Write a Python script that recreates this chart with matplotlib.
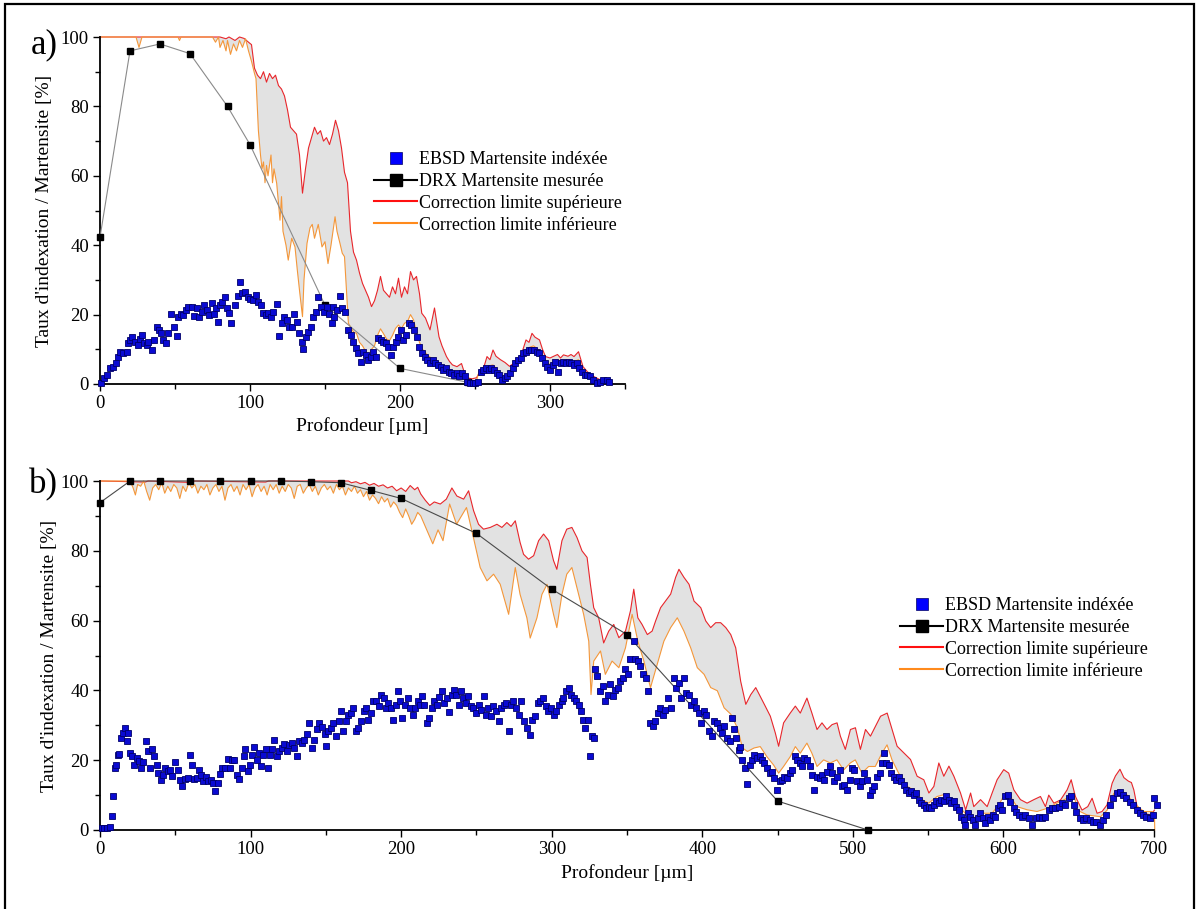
import numpy as np
import matplotlib
matplotlib.use("Agg")
from matplotlib import pyplot as plt
from matplotlib.lines import Line2D
from matplotlib.patches import Rectangle
from matplotlib.ticker import MultipleLocator

plt.rcParams['font.family'] = ['Liberation Serif', 'DejaVu Serif']

# ---------------- panel a) data ----------------
drx_a_x = [0, 20, 40, 60, 85, 100, 150, 200, 245]
drx_a_y = [42.3, 96, 98, 95.2, 80, 69, 22.7, 4.5, 0.5]

upper_a = [(0, 100), (80, 100), (84, 99.5), (86, 100), (90, 99), (93, 100), (96, 99.6), (99, 98.5),
           (101, 97.8), (103, 91), (105, 89), (107, 88), (109, 90), (111, 87), (113, 89.5), (115, 88),
           (117, 89), (119, 86), (121, 85), (123, 83), (125, 79), (127, 74), (129, 73), (131, 72),
           (133, 66), (135, 55), (137, 62), (139, 68), (141, 71), (143, 74), (145, 72), (147, 73),
           (149, 70), (151, 71), (153, 69), (155, 72), (157, 76), (159, 73), (161, 68), (163, 61),
           (165, 58), (167, 44), (169, 38), (171, 35.7), (173, 32), (175, 29), (177, 27), (179, 25),
           (181, 22.3), (183, 24), (185, 27), (187, 31), (189, 27), (191, 26), (193, 25), (195, 28),
           (197, 26), (199, 30.5), (201, 25), (203, 28), (205, 26), (207, 32.4), (209, 30), (211, 31),
           (213, 26), (214.5, 20.4), (217, 19), (220, 15.6), (223, 21.9), (226, 13.6), (228, 11),
           (231, 7.9), (233, 6.5), (235, 5.5), (238, 5), (241, 5.9), (244, 1.8), (248, 1.5), (251, 1.8),
           (254, 4), (256, 5), (258, 7.9), (260, 7), (262, 9.8), (264, 8), (267, 7), (270, 6.2),
           (273, 5.1), (276, 6), (280, 7.9), (282, 10), (284, 12.7), (286, 12), (288, 14.6), (290, 13.5),
           (293, 12.7), (295, 10), (297, 7.9), (300, 7.5), (302, 7.9), (305, 8.5), (307, 7.5), (309, 8.4),
           (312, 8), (314, 8.5), (316, 7.9), (319, 9.3), (322, 5), (325, 3.5), (329, 2.2), (333, 1.3),
           (336, 1.5), (340, 1.3)]

lower_a = [(0, 100), (24, 100), (26, 97), (28, 100), (52, 100), (53, 99), (54, 100), (75, 100),
           (77, 98.5), (79, 100), (80, 97), (82, 99), (84, 96), (85, 99), (87, 95), (89, 98), (91, 96),
           (93, 99), (95, 97), (97, 99.5), (99, 96), (101, 93), (103, 89.5), (104, 88), (105.6, 73),
           (107, 66), (108, 62), (109, 64), (110, 58), (111, 63), (112, 60), (114, 66), (115, 58),
           (116, 62), (117.8, 57.8), (119, 52), (120, 47.2), (121, 54), (122, 44), (124, 40),
           (125.5, 35.7), (127.8, 42), (130, 39.5), (131.5, 33), (133, 27), (135, 19.4), (136, 30),
           (138, 40.5), (140, 45), (141.5, 46), (143, 42), (145.5, 46), (148, 39.5), (150, 41),
           (152, 34.7), (154, 40), (156.7, 48.2), (158, 44), (160, 40.5), (161.5, 37.7), (163, 36.7),
           (165.6, 17.5), (167, 16.5), (169, 15), (171, 14.6), (173, 12), (175, 11), (177, 9.5),
           (179, 8), (181, 10), (183, 11), (185, 14), (187, 15.9), (189, 14.5), (191, 13), (193, 12.5),
           (195, 14), (197, 16), (199, 17), (201, 16), (203, 17.5), (205, 18), (207, 20), (209, 18.5),
           (211, 15), (213, 12), (215, 10), (217, 9), (219, 8), (221, 7.5), (223, 7), (225, 6.5),
           (227, 5.8), (229, 5), (231, 5), (233, 4.2), (235, 3.8), (237, 3.5), (239, 3), (241, 3.5),
           (243, 2.5), (245, 1.2), (248, 0.8), (251, 1), (253, 4), (256, 5), (259, 5.2), (262, 5.5),
           (265, 4), (268, 2), (271, 2.5), (274, 4), (277, 6.5), (280, 8), (283, 9.5), (286, 10.5),
           (289, 11), (292, 10), (295, 8), (298, 6), (301, 5.5), (304, 7), (307, 6.8), (310, 7),
           (313, 7), (316, 6.5), (319, 7), (322, 4), (325, 3), (328, 2), (331, 1), (334, 1.3),
           (337, 1.5), (340, 1)]

ebsd_a = [(1, 0.4), (3, 1.6), (4.4, 2.6), (6.7, 4.5), (8.9, 4.8), (10.4, 6), (12.2, 7.9), (13.3, 9.3),
          (15.6, 8.8), (17.8, 9.3), (18.9, 11.7), (20, 12.7), (21.6, 13.6), (23.3, 12.2), (25.1, 11.2),
          (26.7, 13.1), (27.8, 14.1), (29.6, 11.7), (31.1, 11.2), (32.2, 12.2), (34.4, 9.8), (36.2, 12.7),
          (37.8, 16.5), (39.3, 15.5), (40.7, 14.6), (42.2, 12.7), (43.8, 11.7), (45.6, 14.6), (47.3, 20.3),
          (49.1, 16.5), (51.1, 13.8), (52.2, 19.4), (54, 20.3), (55.6, 19.9), (57.1, 21.3), (58.9, 22.3),
          (61.1, 22.3), (62.9, 19.6), (64.4, 21.8), (66.2, 19.4), (67.8, 20.8), (69.6, 22.7), (71.3, 21.3),
          (72.7, 19.9), (74.4, 23.2), (75.8, 20.3), (77.1, 21.8), (78.4, 17.9), (80, 22.7), (81.6, 23.7),
          (83.3, 25.1), (84.7, 21.8), (86, 20.5), (87.3, 17.7), (90, 22.7), (91.8, 25.3), (93.6, 29.3),
          (94.9, 26.1), (96.7, 26.6), (98.4, 25.1), (100.2, 24.4), (102.2, 24.2), (103.8, 25.6),
          (105.6, 23.7), (107.3, 22.7), (108.9, 20.5), (110.4, 19.9), (112.2, 20.5), (114, 19.4),
          (115.6, 20.8), (117.8, 23), (119.3, 13.8), (121.1, 17.5), (122.9, 19.4), (124.4, 18.4),
          (126, 16.5), (127.8, 16.5), (129.6, 20.3), (131.1, 17.9), (132.7, 14.6), (134.4, 12.2),
          (135.6, 10), (137.1, 13.6), (138.9, 15.1), (140.7, 16.5), (142.2, 19.4), (143.8, 20.8),
          (145.6, 25.1), (147.3, 22.3), (149.1, 20.8), (151.1, 22.1), (152.9, 20.3), (154.4, 17.7),
          (155.6, 22.3), (156.2, 19.4), (158, 21.3), (159.8, 25.3), (161.6, 21.8), (163.3, 20.8),
          (165.6, 15.5), (167.3, 14.1), (168.9, 12.2), (170.4, 10.3), (172.2, 8.8), (173.8, 6.3),
          (175.6, 9.3), (177.3, 8.4), (178.9, 6.9), (180.4, 7.9), (182.2, 9.3), (183.8, 7.9),
          (185.6, 13.2), (187.3, 12.7), (188.9, 12.2), (190.7, 11.7), (192.2, 10.7), (193.8, 8.4),
          (195.6, 10.7), (197.1, 12.2), (198.9, 13.6), (200.4, 15.6), (202.2, 12.7), (204, 14.1),
          (205.8, 17.5), (207.6, 17), (209.3, 15.6), (211.1, 13.6), (212.9, 10.7), (214.7, 8.8),
          (216.4, 7.9), (218.2, 6.9), (220, 6), (221.8, 6.9), (223.6, 6.1), (225.3, 5.5), (227.1, 5),
          (228.9, 4), (230.7, 4.5), (232.4, 3.5), (234.2, 3.1), (236, 2.6), (237.8, 3.1), (239.6, 2.2),
          (241.3, 3.1), (243.3, 2.2), (244.9, 0.7), (246.7, 0.2), (248.4, 0.2), (250.2, 0.2), (252, 0.7),
          (253.8, 3.5), (255.6, 4), (257.3, 4.5), (259.1, 4), (260.9, 4.5), (262.7, 4), (264.4, 3.1),
          (266.2, 2.6), (268, 1.2), (269.8, 1.7), (271.6, 2.2), (273.3, 3.1), (275.1, 4.5), (276.9, 6),
          (278.7, 6.9), (280.4, 7.4), (282.2, 8.8), (284, 9.3), (285.8, 9.8), (287.6, 9.8), (289.3, 9.8),
          (291.1, 9.3), (292.9, 8.8), (294.7, 7.4), (296.4, 6), (298.2, 5), (300, 4), (301.8, 5.5),
          (303.6, 6.4), (305.3, 3.5), (307.1, 6), (308.9, 6.4), (310.7, 6), (312.4, 6.4), (314.2, 6),
          (316, 5.5), (317.8, 6), (319.6, 4.5), (321.3, 3.5), (323.1, 2.6), (324.9, 2.6), (326.7, 2.2),
          (328.9, 1.2), (331.1, 0.4), (333.3, 0.7), (335.6, 1.2), (337.8, 1.2), (339.6, 0.7)]

# ---------------- panel b) data ----------------
drx_b_x = [0, 20, 40, 60, 80, 100, 120, 140, 160, 180, 200, 250, 300, 350, 450, 510]
drx_b_y = [93.8, 100, 100, 100, 100, 100, 100, 99.8, 99.5, 97.3, 95, 85, 69, 56, 8.3, 0]

upper_b = [(0, 100), (30, 99.7), (32, 100), (60, 99.6), (62, 100), (110, 99.7), (112, 100), (165, 100),
           (167, 99.5), (170, 99.8), (173, 99.2), (176, 99.6), (179, 98.8), (182, 99.3), (185, 98.5),
           (188, 98.9), (191, 98), (194, 98.5), (197, 97.2), (200, 98), (203, 97), (206, 98.7),
           (209, 97.5), (211, 98.2), (213, 96.3), (216, 94.5), (219, 93), (222, 94), (226, 93.4),
           (230, 94.8), (233.7, 98), (237, 95.7), (241.5, 94.8), (244.8, 97.2), (248.1, 91.5),
           (251.4, 87.6), (254.7, 86.2), (259.2, 86.7), (263.6, 87.6), (266.9, 86.7), (270.2, 88.1),
           (273, 87), (275.8, 88.6), (279, 82.4), (281.3, 79), (284.6, 77.6), (288, 78.6), (291.3, 82.9),
           (294.6, 84.8), (298, 82.9), (301.2, 77.2), (303.4, 74.7), (306.8, 82.9), (310, 86.2),
           (313.4, 86.7), (316.8, 83.8), (320.1, 80), (323.5, 78.1), (325.7, 70.4), (327.9, 63.7),
           (331.2, 60.8), (334.5, 53.6), (337.9, 57), (341.2, 58.9), (344.6, 55.1), (349, 57),
           (352.3, 62.8), (354.5, 69), (357.2, 60.8), (360, 58.9), (363.5, 56), (366.7, 57), (369, 59.9),
           (372.3, 63.7), (375.6, 65.6), (379, 67.6), (382.3, 72.4), (384.5, 74.7), (387.8, 72.4),
           (391.2, 70.4), (394.5, 65.6), (399, 63.7), (402.3, 59.9), (405.6, 58), (408.9, 59.4),
           (412.2, 59.4), (415.6, 58), (418.9, 56), (422.2, 52.2), (425.5, 42.6), (428.9, 36),
           (432.2, 38.8), (435.5, 40.8), (438.5, 38.3), (441.8, 35.5), (445.2, 32.6), (448.5, 27.8),
           (450.7, 24), (454, 30.7), (458.4, 33.5), (461.8, 35.5), (465.1, 33.5), (469.5, 37.8),
           (472.8, 33.5), (476.2, 28.8), (479.5, 30.7), (482.8, 28.8), (486.2, 30.2), (489.5, 30.7),
           (491.7, 26.9), (495, 23.1), (498.4, 28.8), (501.7, 29.3), (505, 23.1), (508.4, 28.8),
           (511.7, 26.9), (515, 29.7), (518.4, 32.6), (522.8, 33.5), (526.1, 28.8), (529.4, 24),
           (533.8, 22.1), (538.3, 20.2), (542.7, 15.4), (547.1, 14.4), (550.5, 10.6), (553.8, 12.5),
           (557.1, 19.2), (560.4, 15.4), (563.8, 18.3), (567.1, 15.4), (571.5, 10.6), (574.9, 5.8),
           (578.2, 10.6), (580.3, 6.7), (584.8, 8.7), (589.2, 6.7), (592.5, 10.6), (595.8, 14.4),
           (600.2, 17.3), (603.5, 16.3), (606.9, 11.5), (611.3, 8.7), (615.7, 7.7), (620.2, 8.7),
           (624.6, 9.6), (627.9, 6.7), (630.1, 10), (633.5, 7.7), (637.9, 8.6), (642.3, 11.5),
           (645, 14.4), (647.8, 9.6), (652.2, 5.7), (656, 6.7), (658.9, 9.1), (662.2, 4.8), (665.5, 5.3),
           (668.8, 7.2), (672.2, 13.4), (674.4, 15.5), (677.4, 17.4), (680, 15), (683, 14), (685, 13.6),
           (686.6, 11.5), (688.8, 6.7), (693.2, 4.8), (697.7, 4.3), (700.3, 5.7)]

lower_b = [(0, 100), (20, 100), (22, 98), (23.5, 96), (25, 99), (27, 98.5), (29, 100), (31, 97),
           (33, 94.5), (35, 98), (37, 99), (39, 97.5), (41, 99.5), (43, 96.5), (45, 98.5), (47, 97),
           (49, 99), (51, 98), (53, 95), (55, 98.5), (57, 97), (59, 99.5), (61, 98), (63, 99), (65, 96.5),
           (67, 98.5), (69, 97.5), (71, 99), (73, 96), (75, 98), (77, 99), (79, 97), (81, 98.5),
           (83, 94.5), (85, 98), (87, 99), (89, 97), (91, 98.5), (93, 96), (95, 99), (97, 97.5), (99, 99),
           (101, 95.5), (103, 98), (105, 99), (107, 97), (109, 98.5), (111, 96), (113, 99), (115, 97.5),
           (117, 99), (119, 96.5), (121, 98.5), (123, 97), (125, 99), (127, 98), (129, 95), (131, 98.5),
           (133, 99), (135, 96.5), (137, 98), (139, 99), (141, 97), (143, 98.5), (145, 96), (147, 98),
           (149, 99), (151, 97.5), (153, 98.5), (155, 96.5), (157, 99), (159, 97.5), (161, 98.5),
           (163, 96), (165, 98), (167, 97), (169, 98.5), (171, 96.5), (173, 97.5), (175, 95.5), (177, 97),
           (179, 94.5), (181, 96), (183, 95), (185, 93.5), (187, 95.5), (189, 94), (191, 95), (193, 92.5),
           (195, 94), (197, 93), (199, 91), (201, 89.5), (203, 92), (205, 90), (207, 87.6), (209, 89),
           (211, 91), (213, 90), (217, 86), (221, 82), (224.5, 86), (227.8, 82.9), (232.2, 93.4),
           (236.8, 87.6), (243.4, 92.4), (248, 83.8), (252.5, 75.2), (257, 71.4), (261.4, 73.3),
           (265.8, 70.4), (271.4, 61.8), (275.8, 75.2), (279, 67.5), (283.5, 60.8), (285.7, 55),
           (290.2, 60.8), (293.5, 67.5), (296.9, 70.4), (301.2, 61.8), (303.4, 58), (306.8, 67.5),
           (310, 73.3), (313.4, 75.2), (316.8, 69.4), (321.2, 61.8), (324.6, 54.1), (326.1, 38.8),
           (327.9, 48.4), (332.4, 51.3), (335.6, 44.6), (340.1, 48.4), (344.6, 46.5), (349, 52.2),
           (353.4, 61.8), (357.2, 54.1), (361.2, 48.4), (365.6, 40.8), (370, 47.4), (374.5, 54.1),
           (379, 58), (383.4, 60.8), (387.8, 57), (392.3, 52.2), (396.7, 46.5), (401.2, 44.6),
           (405.6, 40.8), (410, 39.9), (414.5, 35), (418.9, 33.2), (423.3, 29.3), (426.7, 23.5),
           (430, 22.5), (434.4, 23.5), (438.5, 23.9), (442.9, 21), (447.4, 18.6), (450.7, 16.3),
           (454, 18.2), (458.4, 21), (461.8, 23.9), (465.1, 22), (469.5, 24.9), (472.8, 22), (476.2, 18.2),
           (480.6, 20.1), (485, 19.2), (489.4, 20.1), (493.9, 17.2), (498.3, 19.2), (501.6, 20.1),
           (506, 16.3), (510.5, 18.2), (514.9, 18.2), (519.3, 22), (522.7, 24.4), (526, 20.1),
           (530.4, 16.3), (536, 12.5), (540.4, 11.5), (546, 8.7), (550.3, 7.7), (555.9, 9.6),
           (560.3, 10.1), (564.7, 9.1), (570.3, 6.7), (575.8, 4.3), (581.4, 3.4), (586.9, 4.8),
           (592.4, 4.8), (596.9, 7.2), (601.3, 10.6), (604.6, 9.6), (609, 6.7), (615.7, 5.8), (622.3, 5.3),
           (629, 6.2), (635.6, 7.7), (642.3, 9.1), (646.7, 10.6), (649, 5.7), (655.6, 4.3), (664.5, 3.8),
           (668.9, 5.7), (673.3, 10.5), (677.7, 11.5), (682.2, 10), (686.6, 7.7), (693.2, 5.3),
           (698.8, 5.3), (700.3, 4.8), (700.5, 0)]

ebsd_b = [(1.1, 0.5), (2.9, 0.5), (4.6, 0.7), (6.6, 0.9), (7.7, 3.9), (8.9, 9.6), (10, 17.7), (10.6, 18.7),
          (11.7, 21.6), (12.6, 21.8), (14, 26.4), (15.5, 27.8), (16.6, 29.1), (17.7, 25.4), (18.8, 27.8),
          (19.9, 22.1), (21.5, 21.2), (22.8, 18.7), (24.4, 20.6), (25.9, 19.9), (27.2, 17.7), (28.8, 19.6),
          (30.3, 25.4), (31.7, 22.6), (33.2, 17.7), (34.8, 23.1), (36.1, 21.2), (37.7, 18.7), (38.8, 16.3),
          (40.3, 14.4), (41.6, 15.8), (43.2, 17.7), (45, 16.8), (46.5, 17.3), (48, 15.4), (49.8, 19.6),
          (51.6, 17.3), (53.2, 14.4), (54.7, 12.5), (56.5, 14.7), (58.2, 14.9), (59.8, 21.6), (60.9, 18.7),
          (62.7, 14.7), (64.2, 14.9), (65.8, 17.3), (67.1, 15.8), (68.7, 14.1), (70.4, 15.1), (72, 13.9),
          (73.8, 14.4), (75.3, 13.4), (76.4, 11.2), (78.2, 13.4), (79.7, 16), (81.3, 17.9), (83.1, 17.7),
          (84.8, 20.4), (86.4, 17.7), (87.9, 20.1), (89.3, 20.1), (90.8, 15.8), (92.4, 14.7), (94.1, 17.7),
          (95.5, 21.2), (96.4, 23.1), (98.1, 16.8), (99.7, 18.7), (101.2, 21.6), (102.6, 23.9),
          (104.1, 20.1), (105.7, 22.1), (107, 18.2), (108.5, 21.6), (110.1, 23.1), (111.4, 17.7),
          (113, 21.6), (114.5, 23.1), (115.8, 25.9), (117.4, 21.2), (118.9, 22.6), (120.7, 23.6),
          (122.5, 24.5), (124, 22.6), (125.6, 24.3), (127.4, 25), (129.1, 23.6), (130.7, 21.2),
          (132.2, 25.4), (134, 25), (135.8, 25.9), (137.3, 27.4), (139.1, 30.7), (140.6, 23.6),
          (142.4, 25.9), (143.9, 28.8), (145.5, 30.7), (147.3, 29.4), (149.1, 27.4), (149.9, 24),
          (151.7, 28.3), (153.5, 29.3), (155, 30.7), (156.6, 26.9), (158.4, 31.1), (160.1, 34),
          (161.7, 28.3), (163.2, 31.1), (165, 33), (166.8, 33.5), (168.3, 34.9), (169.9, 28.3),
          (171.6, 29.3), (173.4, 31.1), (175, 34), (176.5, 34.9), (178.3, 31.6), (180.1, 33.5),
          (181.6, 36.9), (183.2, 36.9), (185, 35.4), (186.7, 38.6), (188.5, 37.8), (189.8, 34.9),
          (191.6, 36.4), (193.4, 34.9), (194.9, 31.6), (196.5, 35.9), (197.8, 39.7), (199.3, 36.9),
          (200.9, 32.1), (202.7, 35.9), (204.5, 37.8), (206, 34.9), (207.6, 33), (209.3, 34.9),
          (211.1, 36.9), (212.7, 35.9),
          (213.7, 38.3), (215.3, 35.9), (217, 30.7), (218.8, 32.1), (220.4, 35), (221.9, 36.9),
          (223.7, 35.9), (225.4, 38), (227, 39.8), (228.5, 36.4), (230.3, 37.8), (232.1, 33.8),
          (233.6, 38.8), (234.8, 40), (236.5, 38.8), (238.1, 35.9), (239.6, 39.8), (241.4, 37.8),
          (243.2, 36.4), (244.7, 38.3), (246.3, 35.4), (248, 35), (249.8, 33.5), (251.4, 35.9),
          (252.9, 34.5), (254.7, 38.3), (256.5, 33), (258, 35), (259.6, 32.6), (261.3, 35.4), (263.1, 34),
          (264.7, 31.1), (266.2, 35), (268, 35.9), (269.8, 36.4), (271.5, 28.3), (272.9, 35.9),
          (274.6, 36.9), (276.4, 35), (278.2, 33), (279.9, 36.9), (281.7, 31.1), (283.5, 29.2),
          (285.3, 27.3), (287, 31.6), (288.8, 32.6), (290.6, 36.4), (292.3, 36.9), (294.1, 37.8),
          (295.9, 35.4), (297.7, 34), (299.4, 35), (301.2, 33), (303, 34), (304.7, 35.9), (306.5, 36.9),
          (307.8, 37.8), (309.6, 39.8), (311.2, 40.7), (312.7, 38.8), (314.5, 37.8), (316.3, 36.9),
          (317.8, 35.9), (319.4, 34), (321.1, 31.6), (322.2, 29.2), (323.8, 31.6), (325.6, 21.1),
          (326.7, 26.9), (327.8, 26.4), (328.9, 46), (330.4, 44.1), (332.2, 39.8), (334, 41.2),
          (335.5, 36.9), (337.1, 38.8), (338.9, 41.7), (340.6, 38.3), (342.2, 40.2), (343.7, 40.7),
          (345.5, 42.6), (347.3, 43.6), (348.8, 46), (350.4, 44.6), (352.1, 48.9), (354.4, 54.1),
          (355.5, 48.9), (357, 48.4), (358.8, 47), (360.6, 44.6), (362.3, 43.6), (364.1, 39.8),
          (365.4, 30.7), (367.2, 29.7), (368.8, 31.1), (370.3, 33.5), (372.1, 35), (373.9, 33),
          (375.4, 34.5), (377, 37.8), (379.2, 35), (381, 43.6), (382.7, 40.7), (384.3, 42.1),
          (385.8, 37.8), (387.6, 43.6), (389.4, 39.3), (390.9, 38.8), (392.5, 35.9), (394.2, 36.9),
          (396, 35), (397.6, 33.5), (399.1, 30.7), (400.9, 34), (402.6, 33), (404.4, 28.3), (406.4, 26.9),
          (408, 31.1), (409.7, 30.7), (411.5, 29.2), (413.1, 27.8), (414.6, 29.7), (416.4, 26.4),
          (418.2, 25.4), (419.7, 32.1), (421.3, 28.8), (422.6, 26.4), (424.1, 23),
          (425.2, 23.9), (426.3, 20.1), (428.5, 17.7), (429.6, 13.2), (431.4, 18.7), (433, 20.1),
          (434.5, 21.6), (436.3, 20.6), (438, 21.1), (439.6, 20.1), (441.1, 19.2), (442.9, 17.7),
          (444.7, 16.3), (446.2, 16.7), (447.8, 14.9), (449.6, 11.5), (451.3, 13.9), (452.9, 14.4),
          (454.4, 15.3), (456.2, 14.9), (458, 16.3), (459.5, 17.2), (461.3, 21.1), (462.9, 20.1),
          (464.6, 19.2), (466.2, 18.2), (467.7, 20.6), (469.5, 20.1), (471.3, 18.2), (472.8, 15.8),
          (474.4, 11.5), (476.1, 15.3), (477.9, 14.9), (479.5, 15.8), (481, 14.4), (482.8, 16.7),
          (484.6, 18.2), (486.1, 16.3), (487.7, 13.9), (489.4, 15.3), (491.2, 17.2), (492.8, 12.5),
          (494.3, 13), (496.1, 11.5), (497.9, 14.4), (499.4, 17.7), (501, 17.2), (502.7, 13.9),
          (504.5, 12.5), (506, 13.9), (507.6, 16.3), (509.4, 14.4), (511.1, 10.1), (512.7, 11.5),
          (514.2, 12.5), (516, 15.3), (517.8, 16.3), (519.3, 19.2), (520.9, 22), (522.2, 19.2),
          (523.8, 18.7), (525.3, 16.3), (527.1, 15.3), (528.9, 14.4), (530.4, 15.3), (532, 13.9),
          (533.7, 13), (535.5, 11.5), (537, 10.6), (538.6, 11.1), (540.4, 10.1), (542.2, 10.6),
          (543.7, 8.7), (545.3, 7.7), (547, 7.2), (548.8, 6.2), (550.3, 6.7), (551.9, 6.2), (553.7, 7.2),
          (555.4, 8.2), (557, 7.7), (558.5, 8.7), (560.3, 8.2), (562.1, 9.6), (563.6, 8.7), (565.2, 7.7),
          (567, 8.2), (568.7, 6.7), (570.3, 5.7), (571.8, 3.8), (573.6, 2.9), (574.7, 1.3), (576.3, 4.8),
          (578, 3.8), (579.8, 2.9), (581.4, 1.4), (582.9, 3.4), (584.7, 4.8), (586.5, 3.4), (588, 2),
          (589.6, 3.8), (591.3, 2.9), (593.1, 4.3), (594.6, 3.8), (596.2, 6.2), (598, 7.2),
          (599.1, 5.7), (601.3, 9.6), (602.9, 10.1), (604.6, 8.1), (606.9, 6.2), (608.6, 5.3),
          (610.2, 4.3), (612.4, 3.8), (614.6, 4.3), (616.8, 3.4), (619, 1.4), (621.3, 3.4), (623.5, 3.8),
          (625.7, 3.4), (627.9, 3.8), (630.1, 5.7), (632.3, 6.2), (634.5, 6.2), (636.8, 6.7), (639, 7.7),
          (641.2, 7.2), (643.4, 9.1), (645, 9.6), (646.7, 7.2), (648.5, 5.3), (650.7, 3.4), (652.9, 2.9),
          (655.1, 3.4), (657.4, 2.9), (659.6, 2.4), (661.8, 2.4), (664, 1.4), (666.2, 2.9), (668.4, 4.3),
          (670.7, 7.2), (672.9, 9.1), (675.1, 10.5), (677.3, 11), (679.5, 10.1), (681.7, 9.1),
          (683.9, 8.1), (686.2, 7.2), (688.4, 5.7), (690.6, 4.8), (692.8, 4.3), (695, 3.8), (697.2, 3.4),
          (699.4, 4.3), (700.3, 9.1), (701.7, 7.2)]

labels = ['EBSD Martensite indéxée', 'DRX Martensite mesurée',
          'Correction limite supérieure', 'Correction limite inférieure']

RED = '#e8262b'
ORANGE = '#f4973a'
FILL = '#e2e2e2'
BLUE_FACE = '#0a0ad2'
BLUE_EDGE = '#00006a'
FS = 14


def draw_panel(ax, upper, lower, ebsd, drx_x, drx_y, xmax, drx_color):
    ux, uy = zip(*upper)
    lx, ly = zip(*lower)
    ex, ey = zip(*ebsd)
    poly_x = np.concatenate([ux, lx[::-1]])
    poly_y = np.concatenate([uy, ly[::-1]])
    ax.fill(poly_x, poly_y, color=FILL, lw=0, zorder=1, clip_on=False)
    ax.plot(ux, uy, color=RED, lw=0.8, zorder=2, clip_on=False)
    ax.plot(lx, ly, color=ORANGE, lw=0.8, zorder=2, clip_on=False)
    ax.plot(drx_x, drx_y, color=drx_color, lw=0.8, zorder=3, clip_on=False)
    ax.plot(drx_x, drx_y, ls='none', marker='s', ms=4.3, mfc='black', mec='black',
            zorder=4, clip_on=False)
    ax.plot(ex, ey, ls='none', marker='s', ms=4.8, mfc=BLUE_FACE, mec=BLUE_EDGE, mew=0.6,
            zorder=5, clip_on=False)

    ax.set_xlim(0, xmax)
    ax.set_ylim(0, 100)
    ax.xaxis.set_major_locator(MultipleLocator(100))
    ax.xaxis.set_minor_locator(MultipleLocator(50))
    ax.yaxis.set_major_locator(MultipleLocator(20))
    ax.yaxis.set_minor_locator(MultipleLocator(10))
    ax.tick_params(which='major', direction='out', length=5, width=1.0, labelsize=13.5, pad=3)
    ax.tick_params(which='minor', direction='out', length=3.5, width=1.0)
    for s in ['top', 'right']:
        ax.spines[s].set_visible(False)
    for s in ['left', 'bottom']:
        ax.spines[s].set_linewidth(1.3)
    ax.set_xlabel('Profondeur [µm]', fontsize=FS)
    ax.set_ylabel("Taux d'indexation / Martensite [%]", fontsize=FS)


def legend_handles():
    return [Line2D([], [], ls='none', marker='s', ms=8.5, mfc='#0000ff', mec='#000060', mew=0.5),
            Line2D([], [], color='black', lw=1.5, marker='s', ms=8.5),
            Line2D([], [], color='#ff1010', lw=1.5),
            Line2D([], [], color='#ff8a1c', lw=1.5)]


fig = plt.figure(figsize=(11.99, 9.09), dpi=100)
W, H = 1199.0, 909.0

ax_a = fig.add_axes([100 / W, (H - 384) / H, 525 / W, 347 / H])
draw_panel(ax_a, upper_a, lower_a, ebsd_a, drx_a_x, drx_a_y, 350, '#8a8a8a')
ax_a.yaxis.set_label_coords(-0.09, 0.5)
ax_a.xaxis.set_label_coords(0.5, -0.095)

ax_b = fig.add_axes([100 / W, (H - 830) / H, 1054 / W, 349 / H])
draw_panel(ax_b, upper_b, lower_b, ebsd_b, drx_b_x, drx_b_y, 700, '#4a4a4a')
ax_b.yaxis.set_label_coords(-0.04, 0.5)
ax_b.xaxis.set_label_coords(0.5, -0.097)

leg_kw = dict(frameon=False, loc='upper left', fontsize=13, handlelength=2.4, handletextpad=0.1,
              borderpad=0, borderaxespad=0, labelspacing=0.27)
fig.legend(legend_handles(), labels, bbox_to_anchor=(374 / W, 1 - 151 / H), **leg_kw)
fig.legend(legend_handles(), labels, bbox_to_anchor=(900 / W, 1 - 597 / H), **leg_kw)

fig.text(31 / W, 1 - 28 / H, 'a)', fontsize=25, va='top', ha='left')
fig.text(29 / W, 1 - 468 / H, 'b)', fontsize=25, va='top', ha='left')

fig.add_artist(Rectangle((5 / W, -0.01), 1189 / W, 1 - 4 / H + 0.01, transform=fig.transFigure,
                         fill=False, edgecolor='black', lw=1.6, clip_on=False))

fig.savefig('out.png', dpi=100)
